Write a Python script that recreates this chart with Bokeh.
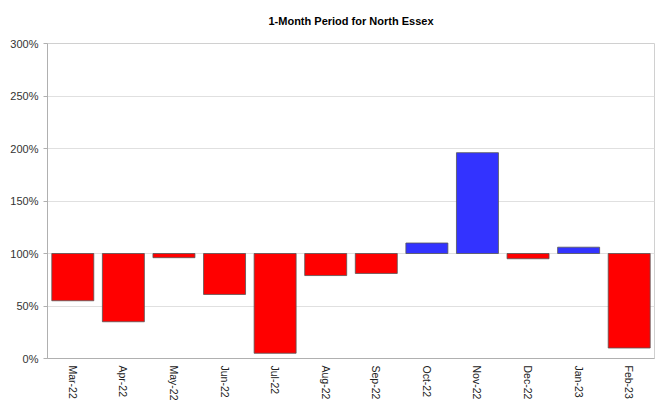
import math
from bokeh.plotting import figure
from bokeh.models import ColumnDataSource, PrintfTickFormatter, FixedTicker, Range1d
from bokeh.embed import file_html
from bokeh.resources import INLINE

months = ["Mar-22", "Apr-22", "May-22", "Jun-22", "Jul-22", "Aug-22",
          "Sep-22", "Oct-22", "Nov-22", "Dec-22", "Jan-23", "Feb-23"]
values = [55, 35, 96, 61, 5, 79, 81, 110, 196, 95, 106, 10]
baseline = [100] * len(months)
y_ticks = [0, 50, 100, 150, 200, 250, 300]

colors = ["#3333FF" if v > 100 else "#FF0000" for v in values]
src = ColumnDataSource(dict(x=months, top=values, bottom=baseline, color=colors))

p = figure(x_range=months, y_range=Range1d(0, 300), width=655, height=403,
           output_backend="svg", toolbar_location=None,
           min_border_left=47, min_border_right=1, min_border_top=0, min_border_bottom=0)

p.vbar(x="x", top="top", bottom="bottom", width=0.83, source=src,
       fill_color="color", line_color="#555555", line_width=0.8)

p.title.text = "1-Month Period for North Essex"
p.title.align = "center"
p.title.vertical_align = "top"
p.title.text_font = "Liberation Sans"
p.title.text_font_size = "11px"
p.title.text_font_style = "bold"
p.title.text_color = "#000000"
p.title.standoff = 29

p.yaxis.ticker = FixedTicker(ticks=y_ticks)
p.yaxis.formatter = PrintfTickFormatter(format="%d%%")
p.yaxis.major_label_text_font = "Liberation Sans"
p.yaxis.major_label_text_font_size = "11px"
p.yaxis.major_label_text_color = "#333333"
p.yaxis.axis_line_color = "#b0b0b0"
p.yaxis.major_tick_line_color = "#b0b0b0"
p.yaxis.major_tick_in = 0
p.yaxis.major_tick_out = 4
p.yaxis.minor_tick_line_color = None

p.xaxis.major_label_orientation = -math.pi / 2
p.xaxis.major_label_text_font = "Liberation Sans"
p.xaxis.major_label_text_font_size = "10.5px"
p.xaxis.major_label_text_color = "#222222"
p.xaxis.axis_line_color = "#b0b0b0"
p.xaxis.major_tick_line_color = None
p.xaxis.major_tick_out = 0
p.xaxis.major_tick_in = 0
p.xaxis.major_label_standoff = 7

p.xgrid.grid_line_color = None
p.ygrid.grid_line_color = "#e0e0e0"
p.outline_line_color = "#d0d0d0"
p.background_fill_color = "white"
p.border_fill_color = "white"

open("out.html", "w").write(file_html(p, INLINE))
